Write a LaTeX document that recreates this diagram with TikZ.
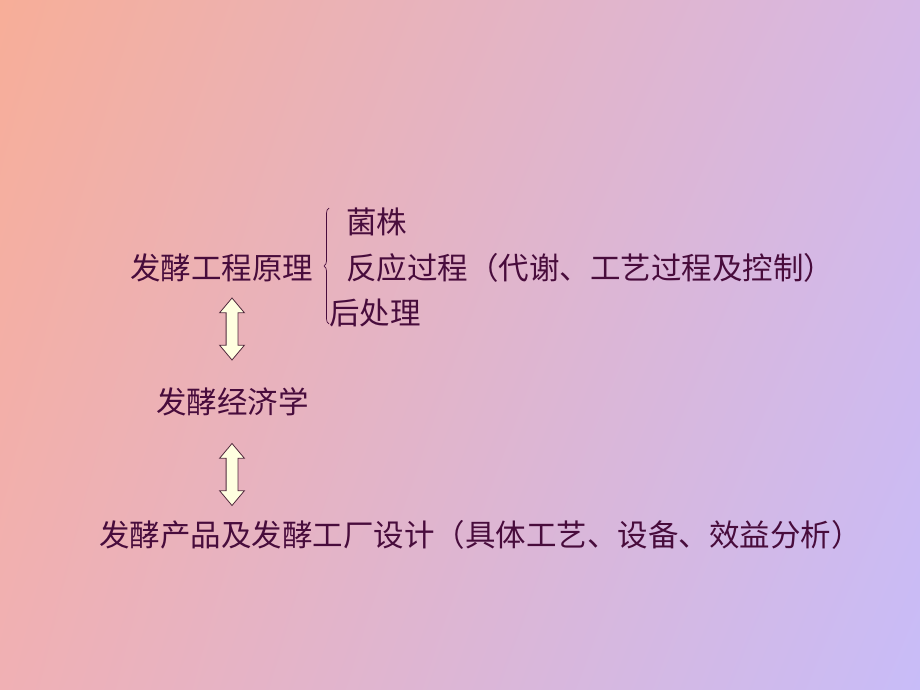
\documentclass[tikz,border=0pt]{standalone}
\usepackage{fontspec}
\newfontfamily\cjk[Kerning=Off]{Noto Sans CJK SC}
\usetikzlibrary{shapes.arrows,decorations.pathreplacing,shadings}
\definecolor{bgTL}{RGB}{247,174,152}
\definecolor{bgTR}{RGB}{214,184,230}
\definecolor{bgBL}{RGB}{240,176,180}
\definecolor{bgBR}{RGB}{200,188,248}
\definecolor{ink}{RGB}{72,12,60}
\definecolor{arrowfill}{RGB}{255,255,224}
\definecolor{arrowline}{RGB}{80,40,60}
\newcommand\zlp{\makebox[1em][r]{（}}
\newcommand\zrp{\makebox[1em][l]{）}}
\newcommand\zdun{\makebox[1em][l]{、}}
\tikzset{
  txt/.style={anchor=west,inner sep=0pt,text=ink,font=\cjk\fontsize{30.5}{36}\selectfont},
  dblarrow/.style={shape=double arrow,draw=arrowline,line width=0.8pt,fill=arrowfill,
    rotate=90,minimum height=62pt,inner xsep=0pt,inner ysep=5.5pt,
    double arrow head extend=6.5pt,double arrow tip angle=80},
  bracestyle/.style={draw=ink,line width=0.7pt,decorate,decoration={brace,amplitude=5pt}}
}
\begin{document}
\begin{tikzpicture}[x=1pt,y=-1pt]
\useasboundingbox (0,0) rectangle (920,690);
\shade[upper left=bgTL,upper right=bgTR,lower left=bgBL,lower right=bgBR] (0,0) rectangle (920,690);
\node[txt] (principle) at (130,268) {发酵工程原理};
\node[txt] (strain) at (346,222) {菌株};
\node[txt] (reaction) at (346,268) {反应过程\zlp 代谢\zdun 工艺过程及控制\zrp};
\node[txt] (post) at (329,313) {后处理};
\coordinate (braceBot) at (329,324);
\coordinate (braceTop) at (329,208);
\draw[bracestyle] (braceBot) -- (braceTop);
\node[txt] (econ) at (156,402) {发酵经济学};
\node[txt] (design) at (99,535) {发酵产品及发酵工厂设计\zlp 具体工艺\zdun 设备\zdun 效益分析\zrp};
\node[dblarrow] (arrow1) at (232,329) {};
\node[dblarrow] (arrow2) at (232,474.5) {};
\end{tikzpicture}
\end{document}
